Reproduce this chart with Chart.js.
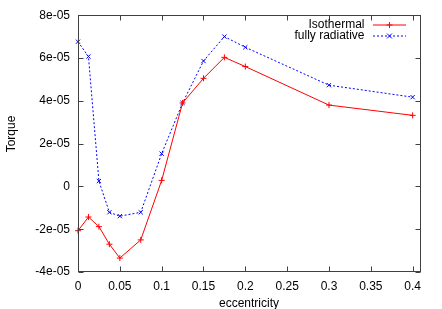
<!DOCTYPE html>
<html>
<head>
<meta charset="utf-8">
<script src="https://cdn.jsdelivr.net/npm/chart.js@4/dist/chart.umd.min.js"></script>
<style>
html,body{margin:0;padding:0;background:#fff;}
#c{display:block;}
</style>
</head>
<body>
<canvas id="c" width="442" height="309"></canvas>
<script>
const eccentricity = [0, 0.0125, 0.025, 0.0375, 0.05, 0.075, 0.1, 0.125, 0.15, 0.175, 0.2, 0.3, 0.4];
const isothermal = [-2.07e-5, -1.43e-5, -1.88e-5, -2.7e-5, -3.35e-5, -2.5e-5, 0.28e-5, 3.9e-5, 5.05e-5, 6.03e-5, 5.6e-5, 3.8e-5, 3.32e-5];
const fullyRadiative = [6.76e-5, 6.07e-5, 0.25e-5, -1.21e-5, -1.39e-5, -1.21e-5, 1.53e-5, 3.9e-5, 5.86e-5, 7.0e-5, 6.5e-5, 4.73e-5, 4.17e-5];
const xTickValues = [0, 0.05, 0.1, 0.15, 0.2, 0.25, 0.3, 0.35, 0.4];
const xTickLabels = ["0", "0.05", "0.1", "0.15", "0.2", "0.25", "0.3", "0.35", "0.4"];
const yTickValues = [-4e-5, -2e-5, 0, 2e-5, 4e-5, 6e-5, 8e-5];
const yTickLabels = ["-4e-05", "-2e-05", "0", "2e-05", "4e-05", "6e-05", "8e-05"];
const seriesNames = ["Isothermal", "fully radiative"];
const xTitle = "eccentricity";
const yTitle = "Torque";

const FONT = '"Liberation Sans", Arial, Helvetica, sans-serif';
const COLORS = ['#ff0000', '#0000ff'];
const DASHES = [[], [2, 2]];
const MARKERS = ['cross', 'crossRot'];

function pts(ys){ return eccentricity.map((x,i)=>({x:x,y:ys[i]})); }

function drawMarker(ctx, style, x, y, r){
  ctx.beginPath();
  if (style === 'cross') {
    ctx.moveTo(x - r, y); ctx.lineTo(x + r, y);
    ctx.moveTo(x, y - r); ctx.lineTo(x, y + r);
  } else {
    const d = r * 0.8;
    ctx.moveTo(x - d, y - d); ctx.lineTo(x + d, y + d);
    ctx.moveTo(x - d, y + d); ctx.lineTo(x + d, y - d);
  }
  ctx.stroke();
}

const framePlugin = {
  id: 'frame',
  afterDraw(chart){
    const ctx = chart.ctx, a = chart.chartArea;
    const xs = chart.scales.x, ys = chart.scales.y;
    ctx.save();
    ctx.strokeStyle = '#404040';
    ctx.lineWidth = 1;
    ctx.setLineDash([]);
    const L = Math.round(a.left)+0.5, R = Math.round(a.right)-0.5, T = Math.round(a.top)+0.5, B = Math.round(a.bottom)-0.5;
    ctx.strokeRect(L, T, R - L, B - T);
    const tl = 5;
    ctx.beginPath();
    xTickValues.forEach(v => {
      const px = Math.round(xs.getPixelForValue(v)) + 0.5;
      ctx.moveTo(px, B); ctx.lineTo(px, B - tl);
      ctx.moveTo(px, T); ctx.lineTo(px, T + tl);
    });
    yTickValues.forEach(v => {
      const py = Math.round(ys.getPixelForValue(v)) + 0.5;
      ctx.moveTo(L, py); ctx.lineTo(L + tl, py);
      ctx.moveTo(R, py); ctx.lineTo(R - tl, py);
    });
    ctx.stroke();

    // axis titles
    ctx.fillStyle = '#000';
    ctx.font = '12px ' + FONT;
    ctx.textAlign = 'center';
    ctx.textBaseline = 'middle';
    ctx.fillText(xTitle, 249, 303.5);
    ctx.save();
    ctx.translate(12, 134);
    ctx.rotate(-Math.PI / 2);
    ctx.fillText(yTitle, 0, 0);
    ctx.restore();

    // legend (gnuplot style, top right)
    const rows = [24.5, 36];
    seriesNames.forEach((name, i) => {
      const y = rows[i];
      ctx.fillStyle = '#000';
      ctx.textAlign = 'right';
      ctx.fillText(name, 364.5, y);
      ctx.strokeStyle = COLORS[i];
      ctx.lineWidth = 1;
      ctx.setLineDash(DASHES[i]);
      ctx.beginPath();
      ctx.moveTo(373, Math.round(y)); ctx.lineTo(406, Math.round(y));
      ctx.stroke();
      ctx.setLineDash([]);
      drawMarker(ctx, MARKERS[i], 389.5, Math.round(y), 3);
    });
    ctx.restore();
  }
};

new Chart(document.getElementById('c'), {
  type: 'line',
  data: {
    datasets: [
      {
        label: seriesNames[0],
        data: pts(isothermal),
        borderColor: COLORS[0],
        backgroundColor: COLORS[0],
        borderWidth: 1,
        borderDash: DASHES[0],
        pointStyle: MARKERS[0],
        pointRadius: 3,
        pointBorderWidth: 1,
        pointHoverRadius: 3,
        tension: 0,
        fill: false,
        clip: false
      },
      {
        label: seriesNames[1],
        data: pts(fullyRadiative),
        borderColor: COLORS[1],
        backgroundColor: COLORS[1],
        borderWidth: 1,
        borderDash: DASHES[1],
        pointStyle: MARKERS[1],
        pointRadius: 3,
        pointBorderWidth: 1,
        pointHoverRadius: 3,
        tension: 0,
        fill: false,
        clip: false
      }
    ]
  },
  options: {
    responsive: false,
    animation: false,
    events: [],
    layout: { padding: { top: 15, right: 21, left: 0, bottom: 0 } },
    plugins: { legend: { display: false }, tooltip: { enabled: false } },
    scales: {
      x: {
        type: 'linear',
        min: 0,
        max: 0.41,
        grid: { display: false, drawTicks: false },
        border: { display: false },
        afterBuildTicks(s){ s.ticks = xTickValues.map(v => ({ value: v })); },
        afterFit(s){ s.height = 37; },
        ticks: {
          color: '#000',
          font: { family: FONT, size: 12 },
          padding: 7,
          maxRotation: 0,
          autoSkip: false,
          callback(v){ const i = xTickValues.findIndex(t => Math.abs(t - v) < 1e-9); return i >= 0 ? xTickLabels[i] : ''; }
        }
      },
      y: {
        type: 'linear',
        min: -4e-5,
        max: 8e-5,
        grid: { display: false, drawTicks: false },
        border: { display: false },
        afterBuildTicks(s){ s.ticks = yTickValues.map(v => ({ value: v })); },
        afterFit(s){ s.width = 78; },
        ticks: {
          color: '#000',
          font: { family: FONT, size: 12 },
          padding: 8,
          autoSkip: false,
          callback(v){ const i = yTickValues.findIndex(t => Math.abs(t - v) < 1e-12); return i >= 0 ? yTickLabels[i] : ''; }
        }
      }
    }
  },
  plugins: [framePlugin]
});
</script>
</body>
</html>
